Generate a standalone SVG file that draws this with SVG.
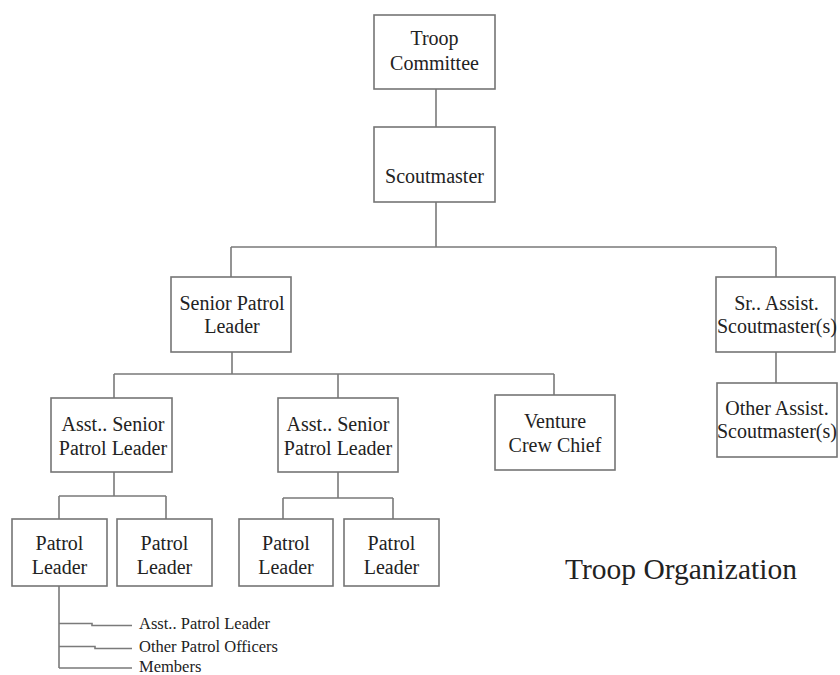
<svg xmlns="http://www.w3.org/2000/svg" width="840" height="675" viewBox="0 0 840 675">
<style>
.box{fill:#fff;stroke:#757575;stroke-width:1.6}
.ln{fill:none;stroke:#7a7a7a;stroke-width:1.6}
text{font-family:"Liberation Serif","DejaVu Serif","Times New Roman",Times,serif;fill:#222}
.t{font-size:20px;text-anchor:middle}
.s{font-size:16.5px}
.title{font-size:29.5px}
</style>
<rect width="840" height="675" fill="#fff"/>
<g id="connectors">
<path class="ln" d="M436 89V127"/>
<path class="ln" d="M436 202V247M231 247H776M231 247V277M776 247V277"/>
<path class="ln" d="M776 352V383"/>
<path class="ln" d="M232 352V374M114 374H554M114 374V398M338 374V398M554 374V395"/>
<path class="ln" d="M114 472V496M59 496H166M59 496V519M166 496V519"/>
<path class="ln" d="M338 472V498M283 498H393M283 498V519M393 498V519"/>
<path class="ln" d="M59 586V668M59 623.5H92V625.5H132M59 646.5H95V648.5H132M59 668H132"/>
</g>
<g id="troop-committee"><rect class="box" x="374" y="15" width="121" height="74"/><text class="t" x="434.5" y="45">Troop</text><text class="t" x="434.5" y="70">Committee</text></g>
<g id="scoutmaster"><rect class="box" x="374" y="127" width="121" height="75"/><text class="t" x="434.5" y="183">Scoutmaster</text></g>
<g id="senior-patrol-leader"><rect class="box" x="171" y="277" width="120" height="75"/><text class="t" x="232" y="310">Senior Patrol</text><text class="t" x="232" y="333">Leader</text></g>
<g id="sr-assist-scoutmaster"><rect class="box" x="716" y="277" width="119" height="75"/><text class="t" x="776.5" y="310">Sr.. Assist.</text><text class="t" x="777" y="333">Scoutmaster(s)</text></g>
<g id="other-assist-scoutmaster"><rect class="box" x="717" y="383" width="120" height="74"/><text class="t" x="777" y="415">Other Assist.</text><text class="t" x="777" y="438">Scoutmaster(s)</text></g>
<g id="asst-spl-1"><rect class="box" x="51" y="398" width="121" height="74"/><text class="t" x="113" y="431">Asst.. Senior</text><text class="t" x="113" y="455">Patrol Leader</text></g>
<g id="asst-spl-2"><rect class="box" x="278" y="398" width="120" height="74"/><text class="t" x="338" y="431">Asst.. Senior</text><text class="t" x="338" y="455">Patrol Leader</text></g>
<g id="venture-crew-chief"><rect class="box" x="495" y="395" width="120" height="75"/><text class="t" x="555" y="428">Venture</text><text class="t" x="555" y="452">Crew Chief</text></g>
<g id="patrol-leader-1"><rect class="box" x="12" y="519" width="95" height="67"/><text class="t" x="59.5" y="550">Patrol</text><text class="t" x="59.5" y="574">Leader</text></g>
<g id="patrol-leader-2"><rect class="box" x="117" y="519" width="95" height="67"/><text class="t" x="164.5" y="550">Patrol</text><text class="t" x="164.5" y="574">Leader</text></g>
<g id="patrol-leader-3"><rect class="box" x="239" y="519" width="94" height="67"/><text class="t" x="286" y="550">Patrol</text><text class="t" x="286" y="574">Leader</text></g>
<g id="patrol-leader-4"><rect class="box" x="344" y="519" width="95" height="67"/><text class="t" x="391.5" y="550">Patrol</text><text class="t" x="391.5" y="574">Leader</text></g>
<g id="patrol-members">
<text class="s" x="139" y="629">Asst.. Patrol Leader</text>
<text class="s" x="139" y="652">Other Patrol Officers</text>
<text class="s" x="139" y="672">Members</text>
</g>
<text class="title" x="565" y="579">Troop Organization</text>
</svg>
